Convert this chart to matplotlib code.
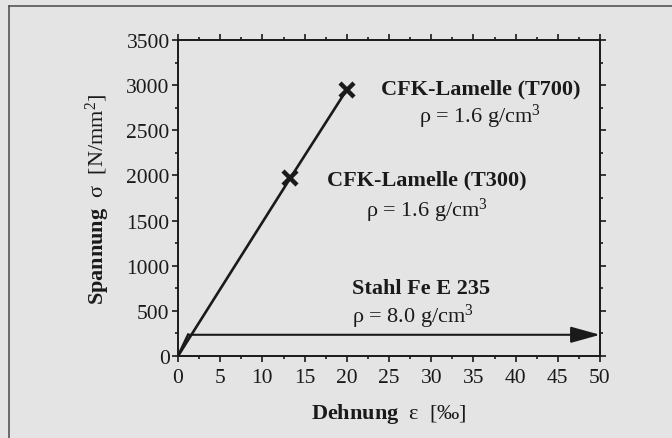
import numpy as np
import matplotlib
matplotlib.use("Agg")
import matplotlib.pyplot as plt
from matplotlib.lines import Line2D
from matplotlib.ticker import MultipleLocator

plt.rcParams["font.family"] = ["Liberation Serif", "DejaVu Serif"]
plt.rcParams["mathtext.fontset"] = "custom"
plt.rcParams["mathtext.rm"] = "Liberation Serif"
plt.rcParams["mathtext.bf"] = "Liberation Serif:bold"
plt.rcParams["mathtext.default"] = "regular"

# Daten (Dehnung in Promille, Spannung in N/mm^2)
cfk_strain = [0.0, 13.3, 20.0]
cfk_stress = [0.0, 1970.0, 2950.0]
cfk_break_strain = [13.3, 20.0]
cfk_break_stress = [1970.0, 2950.0]

steel_strain = [0.0, 1.2, 50.0]
steel_stress = [0.0, 235.0, 235.0]

labels = [
    # (text, x, y, bold, ha)
    ("CFK-Lamelle (T700)", 35.9, 2960, True, "center"),
    ("ρ = 1.6 g/cm$^3$", 35.8, 2660, False, "center"),
    ("CFK-Lamelle (T300)", 29.5, 1960, True, "center"),
    ("ρ = 1.6 g/cm$^3$", 29.5, 1620, False, "center"),
    ("Stahl Fe E 235", 20.6, 750, True, "left"),
    ("ρ = 8.0 g/cm$^3$", 20.6, 440, False, "left"),
]

bg = "#e4e4e4"
ink = "#1a1a1a"
fig = plt.figure(figsize=(6.72, 4.39), dpi=100, facecolor=bg)
ax = fig.add_axes([178 / 672, 1 - 357 / 439, 422 / 672, 316 / 439], facecolor=bg)

# CFK-Linie mit Bruchpunkten
ax.plot(cfk_strain, cfk_stress, color=ink, lw=1.9, solid_capstyle="butt")
ax.plot(cfk_break_strain, cfk_break_stress, ls="none", marker="x",
        ms=10.5, mew=3.2, color=ink)

# Stahl: kurzer Anstieg, dann Pfeil bis 50 ‰
ax.plot(steel_strain[:2], steel_stress[:2], color=ink, lw=1.9)
ax.annotate("", xy=(steel_strain[2], steel_stress[2]),
            xytext=(steel_strain[1], steel_stress[1]),
            arrowprops=dict(arrowstyle="-|>,head_length=1.8,head_width=0.5",
                            color=ink, lw=1.5, shrinkA=0, shrinkB=0))

for txt, x, y, bold, ha in labels:
    ax.text(x, y, txt, fontsize=16, fontweight="bold" if bold else "normal",
            ha=ha, va="center", color=ink)

ax.set_xlim(0, 50)
ax.set_ylim(0, 3500)
ax.xaxis.set_major_locator(MultipleLocator(5))
ax.xaxis.set_minor_locator(MultipleLocator(2.5))
ax.yaxis.set_major_locator(MultipleLocator(500))
ax.yaxis.set_minor_locator(MultipleLocator(250))
ax.tick_params(which="both", direction="out", top=True, right=True,
               labelsize=15.5, colors=ink, width=1.2, pad=2)
ax.tick_params(axis="x", which="both", pad=5)
ax.tick_params(which="major", length=4)
ax.tick_params(which="minor", length=2.5)
for s in ax.spines.values():
    s.set_linewidth(1.4)
    s.set_color(ink)

ax.set_xlabel(r"$\mathbf{Dehnung}$  ε  [‰]", fontsize=16, labelpad=10, color=ink)
ax.set_ylabel(r"$\mathbf{Spannung}$  σ  [N/mm$^2$]", fontsize=16, labelpad=10, color=ink)

# Rahmen oben und links
fig.add_artist(Line2D([9 / 672, 1], [1 - 7 / 439] * 2, color="#555555", lw=1.2))
fig.add_artist(Line2D([9 / 672] * 2, [0, 1 - 7 / 439], color="#555555", lw=1.2))

fig.savefig("out.png", dpi=100, facecolor=bg)
